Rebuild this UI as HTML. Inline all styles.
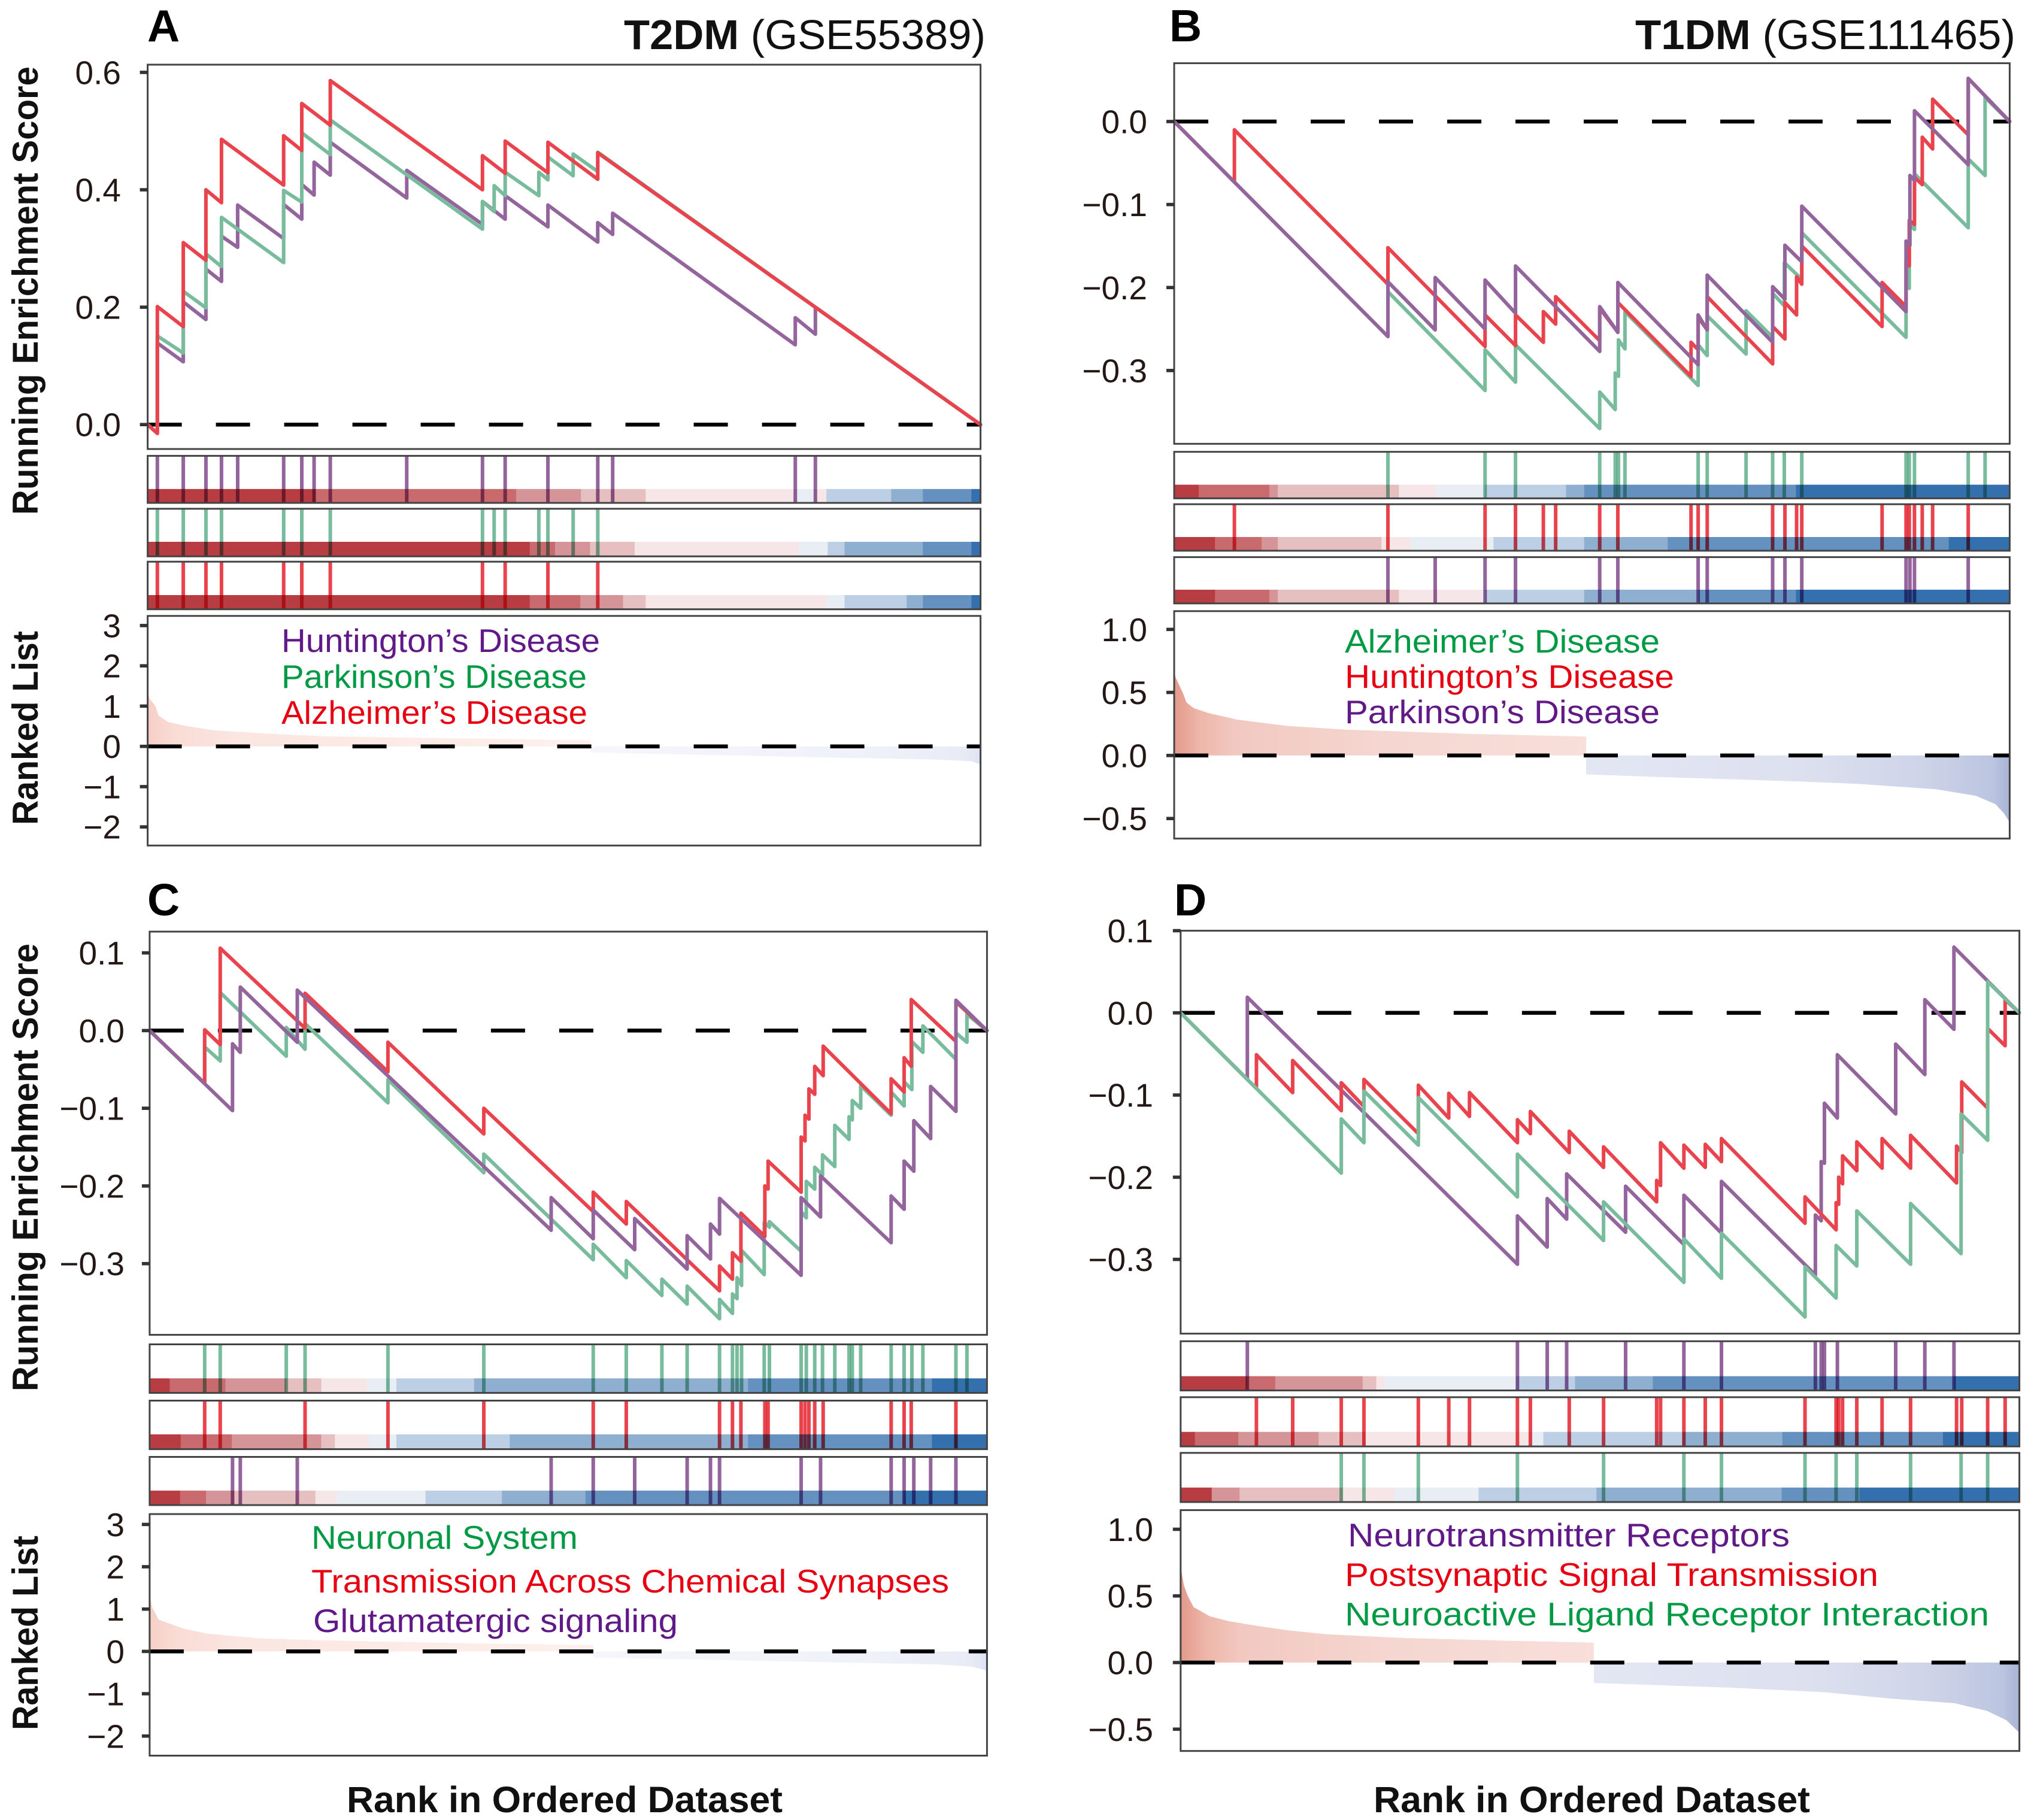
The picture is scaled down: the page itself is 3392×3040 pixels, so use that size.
<!DOCTYPE html>
<html lang="en">
<head>
<meta charset="utf-8">
<title>GSEA running enrichment plots: T2DM and T1DM</title>
<style>
html,body{margin:0;padding:0;background:#fff;}
svg{display:block;}
text{font-family:"Liberation Sans",Arial,sans-serif;}
.letter{font-size:75px;font-weight:700;fill:#000;}
.title{font-size:70px;fill:#111;}
.ytitle{font-size:60px;font-weight:700;fill:#111;}
.xtitle{font-size:61px;font-weight:700;fill:#111;}
.legend{font-size:55px;}
.tick{font-size:55px;fill:#231815;text-anchor:end;}
</style>
</head>
<body>
<svg id="figure" xmlns="http://www.w3.org/2000/svg" width="3392" height="3040" viewBox="0 0 3392 3040">
  <rect x="0" y="0" width="3392" height="3040" fill="#fff"/>
  <defs id="defs"></defs>
  <g id="marks"></g>

  <text class="letter" x="246" y="69">A</text>
  <text class="letter" x="1953" y="69">B</text>
  <text class="letter" x="246" y="1529">C</text>
  <text class="letter" x="1961" y="1529">D</text>

  <text class="title" x="1042" y="82" textLength="604" lengthAdjust="spacingAndGlyphs"><tspan font-weight="700">T2DM</tspan> (GSE55389)</text>
  <text class="title" x="2731" y="82" textLength="635" lengthAdjust="spacingAndGlyphs"><tspan font-weight="700">T1DM</tspan> (GSE111465)</text>

  <text class="ytitle" transform="translate(63,860) rotate(-90)" textLength="749" lengthAdjust="spacingAndGlyphs">Running Enrichment Score</text>
  <text class="ytitle" transform="translate(63,1378) rotate(-90)" textLength="324" lengthAdjust="spacingAndGlyphs">Ranked List</text>
  <text class="ytitle" transform="translate(63,2324) rotate(-90)" textLength="748" lengthAdjust="spacingAndGlyphs">Running Enrichment Score</text>
  <text class="ytitle" transform="translate(63,2890) rotate(-90)" textLength="325" lengthAdjust="spacingAndGlyphs">Ranked List</text>

  <text class="xtitle" x="579" y="3027" textLength="728" lengthAdjust="spacingAndGlyphs">Rank in Ordered Dataset</text>
  <text class="xtitle" x="2294" y="3027" textLength="729" lengthAdjust="spacingAndGlyphs">Rank in Ordered Dataset</text>

  <text class="legend" x="470" y="1089" fill="#601986" textLength="532" lengthAdjust="spacingAndGlyphs">Huntington’s Disease</text>
  <text class="legend" x="470" y="1149" fill="#009944" textLength="510" lengthAdjust="spacingAndGlyphs">Parkinson’s Disease</text>
  <text class="legend" x="470" y="1209" fill="#e60012" textLength="511" lengthAdjust="spacingAndGlyphs">Alzheimer’s Disease</text>

  <text class="legend" x="2246" y="1090" fill="#009944" textLength="526" lengthAdjust="spacingAndGlyphs">Alzheimer’s Disease</text>
  <text class="legend" x="2246" y="1149" fill="#e60012" textLength="550" lengthAdjust="spacingAndGlyphs">Huntington’s Disease</text>
  <text class="legend" x="2246" y="1208" fill="#601986" textLength="526" lengthAdjust="spacingAndGlyphs">Parkinson’s Disease</text>

  <text class="legend" x="520" y="2587" fill="#009944" textLength="445" lengthAdjust="spacingAndGlyphs">Neuronal System</text>
  <text class="legend" x="520" y="2660" fill="#e60012" textLength="1065" lengthAdjust="spacingAndGlyphs">Transmission Across Chemical Synapses</text>
  <text class="legend" x="523" y="2726" fill="#601986" textLength="609" lengthAdjust="spacingAndGlyphs">Glutamatergic signaling</text>

  <text class="legend" x="2251" y="2583" fill="#601986" textLength="738" lengthAdjust="spacingAndGlyphs">Neurotransmitter Receptors</text>
  <text class="legend" x="2246" y="2649" fill="#e60012" textLength="891" lengthAdjust="spacingAndGlyphs">Postsynaptic Signal Transmission</text>
  <text class="legend" x="2246" y="2715" fill="#009944" textLength="1076" lengthAdjust="spacingAndGlyphs">Neuroactive Ligand Receptor Interaction</text>
</svg>

<script>
// ---------- Panel A data (T2DM) ----------
const aPurpleRanks=[15,55,90,114,139,210,238,257,282,400,517,552,618,695,718,1000,1031];
const aPurpleBefore=[-0.015,0.107,0.179,0.244,0.302,0.317,0.350,0.391,0.425,0.386,0.341,0.350,0.337,0.311,0.324,0.136,0.154];
const aPurpleAfter=[0.139,0.209,0.265,0.321,0.374,0.375,0.409,0.447,0.481,0.433,0.380,0.390,0.374,0.344,0.360,0.182,0.200];
const aGreenRanks=[15,55,90,114,210,238,282,517,535,552,604,618,657,695];
const aGreenBefore=[-0.015,0.122,0.199,0.269,0.276,0.379,0.460,0.333,0.363,0.390,0.390,0.417,0.424,0.431];
const aGreenAfter=[0.151,0.227,0.291,0.353,0.399,0.497,0.519,0.380,0.407,0.430,0.430,0.456,0.461,0.464];
const aRedRanks=[15,55,90,114,210,238,282,517,552,618,695];
const aRedBefore=[-0.015,0.167,0.280,0.378,0.408,0.467,0.510,0.400,0.428,0.429,0.418];
const aRedAfter=[0.201,0.310,0.400,0.486,0.492,0.547,0.586,0.458,0.483,0.481,0.463];
const aEsTicks=[0.6,0.4,0.2,0.0];
const aListTicks=[3,2,1,0,-1,-2];
const aBand1Ends=[259,569,669,769,1000,1030,1048,1148,1197,1272,1286];
const aBand1Levels=[0,1,2,3,4,5,4,6,7,8,9];
const aBand2Ends=[590,629,683,752,1005,1050,1076,1197,1272,1286];
const aBand3Ends=[590,668,734,769,1048,1076,1172,1197,1272,1286];
const aListPosRanks=[0,4,12,17,32,62,102,172,272,472,683];
const aListPosScores=[1.30,1.16,1.00,0.76,0.60,0.50,0.40,0.33,0.25,0.20,0.15];
const aListNegRanks=[683,972,1222,1272,1286];
const aListNegScores=[-0.15,-0.25,-0.33,-0.37,-0.45];

// ---------- Panel B data (T1DM) ----------
const bGreenRanks=[330,480,527,657,681,686,696,809,823,883,924,942,969,1130,1135,1143,1226,1252];
const bGreenBefore=[-0.259,-0.324,-0.314,-0.370,-0.347,-0.307,-0.274,-0.318,-0.282,-0.280,-0.260,-0.222,-0.190,-0.260,-0.201,-0.130,-0.128,-0.065];
const bGreenAfter=[-0.205,-0.275,-0.269,-0.326,-0.303,-0.263,-0.229,-0.269,-0.234,-0.228,-0.207,-0.170,-0.134,-0.198,-0.124,-0.063,-0.045,0.029];
const bRedRanks=[93,330,480,527,570,589,657,685,798,809,823,924,943,961,969,1093,1130,1135,1143,1155,1171,1226];
const bRedBefore=[-0.073,-0.196,-0.271,-0.270,-0.266,-0.244,-0.264,-0.254,-0.307,-0.275,-0.251,-0.292,-0.262,-0.233,-0.196,-0.247,-0.223,-0.174,-0.124,-0.076,-0.033,-0.016];
const bRedAfter=[-0.010,-0.152,-0.233,-0.233,-0.229,-0.211,-0.225,-0.218,-0.266,-0.236,-0.211,-0.247,-0.218,-0.187,-0.150,-0.194,-0.170,-0.119,-0.067,-0.019,0.027,0.052];
const bPurpleRanks=[330,403,480,527,657,685,809,823,924,943,969,1130,1136,1143,1226];
const bPurpleBefore=[-0.259,-0.251,-0.250,-0.231,-0.277,-0.254,-0.293,-0.251,-0.266,-0.214,-0.169,-0.229,-0.149,-0.071,-0.052];
const bPurpleAfter=[-0.193,-0.188,-0.191,-0.174,-0.223,-0.194,-0.233,-0.185,-0.199,-0.149,-0.102,-0.144,-0.065,0.013,0.052];
const bEsTicks=[0.0,-0.1,-0.2,-0.3];
const bListTicks=[1.0,0.5,0.0,-0.5];
const bBand1Ends=[38,147,160,347,405,480,605,633,960,1290];
const bBand2Ends=[63,135,160,320,365,493,633,762,1196,1290];
const bBand3Ends=[63,147,160,347,475,480,633,809,960,1290];
const bListPosRanks=[0,2,14,19,30,52,98,175,267,360,455,636];
const bListPosScores=[0.68,0.62,0.49,0.42,0.376,0.338,0.284,0.234,0.204,0.189,0.172,0.15];
const bListNegRanks=[636,755,960,1053,1176,1238,1268,1281,1290];
const bListNegScores=[-0.15,-0.172,-0.205,-0.224,-0.268,-0.32,-0.386,-0.458,-0.53];

// ---------- Panel C data (T2DM) ----------
const cGreenRanks=[85,109,211,240,368,516,685,736,791,830,880,900,907,914,949,957,1006,1014,1027,1039,1058,1080,1085,1098,1145,1165,1177,1194,1245,1262];
const cGreenBefore=[-0.068,-0.039,-0.033,-0.024,-0.093,-0.183,-0.295,-0.318,-0.341,-0.352,-0.371,-0.364,-0.345,-0.328,-0.314,-0.253,-0.284,-0.241,-0.204,-0.186,-0.175,-0.140,-0.115,-0.100,-0.109,-0.097,-0.076,-0.028,-0.037,-0.015];
const cGreenAfter=[-0.021,0.049,0.004,0.009,-0.063,-0.159,-0.275,-0.296,-0.320,-0.329,-0.346,-0.339,-0.318,-0.283,-0.247,-0.246,-0.233,-0.194,-0.176,-0.160,-0.122,-0.111,-0.090,-0.071,-0.079,-0.066,-0.014,0.006,-0.003,0.021];
const cRedRanks=[85,109,240,368,516,685,736,880,900,913,950,955,1006,1012,1018,1027,1040,1145,1165,1176,1245];
const cRedBefore=[-0.068,-0.018,0.003,-0.053,-0.133,-0.233,-0.249,-0.335,-0.320,-0.297,-0.265,-0.204,-0.208,-0.142,-0.114,-0.082,-0.058,-0.107,-0.079,-0.046,-0.014];
const cRedAfter=[0.001,0.106,0.048,-0.015,-0.100,-0.208,-0.220,-0.303,-0.286,-0.235,-0.200,-0.168,-0.137,-0.109,-0.075,-0.046,-0.020,-0.062,-0.035,0.040,0.037];
const cPurpleRanks=[128,140,228,620,685,749,830,866,880,1006,1036,1145,1165,1180,1206,1245];
const cPurpleBefore=[-0.103,-0.028,-0.015,-0.257,-0.268,-0.282,-0.307,-0.294,-0.262,-0.315,-0.240,-0.273,-0.230,-0.181,-0.139,-0.104];
const cPurpleAfter=[-0.017,0.056,0.052,-0.215,-0.231,-0.242,-0.264,-0.249,-0.216,-0.215,-0.187,-0.213,-0.168,-0.116,-0.072,0.039];
const cEsTicks=[0.1,0.0,-0.1,-0.2,-0.3];
const cListTicks=[3,2,1,0,-1,-2];
const cBand1Ends=[31,117,211,265,336,381,501,924,1208,1293];
const cBand2Ends=[48,127,265,286,339,381,556,924,1208,1293];
const cBand3Ends=[47,87,131,256,289,426,544,673,1164,1293];
const cListPosRanks=[0,4,14,34,54,89,169,269,469,685];
const cListPosScores=[1.34,1.04,0.75,0.64,0.53,0.42,0.31,0.26,0.20,0.15];
const cListNegRanks=[685,969,1219,1269,1293];
const cListNegScores=[-0.146,-0.23,-0.31,-0.36,-0.45];

// ---------- Panel D data (T1DM) ----------
const dPurpleRanks=[103,520,566,596,687,777,835,980,989,994,1014,1104,1149,1194];
const dPurpleBefore=[-0.081,-0.306,-0.285,-0.251,-0.267,-0.282,-0.268,-0.319,-0.253,-0.183,-0.128,-0.123,-0.075,-0.020];
const dPurpleAfter=[0.019,-0.247,-0.226,-0.196,-0.211,-0.222,-0.205,-0.246,-0.181,-0.110,-0.051,-0.038,0.016,0.080];
const dRedRanks=[117,173,248,283,367,414,446,520,540,600,653,735,741,777,810,835,964,1012,1016,1022,1044,1083,1127,1198,1206,1246,1273];
const dRedBefore=[-0.092,-0.097,-0.119,-0.114,-0.147,-0.128,-0.126,-0.158,-0.147,-0.170,-0.188,-0.230,-0.210,-0.189,-0.188,-0.181,-0.256,-0.264,-0.233,-0.208,-0.192,-0.189,-0.189,-0.207,-0.170,-0.116,-0.040];
const dRedAfter=[-0.051,-0.058,-0.085,-0.081,-0.088,-0.098,-0.097,-0.130,-0.120,-0.144,-0.163,-0.204,-0.158,-0.161,-0.160,-0.153,-0.224,-0.231,-0.200,-0.174,-0.157,-0.153,-0.149,-0.162,-0.084,-0.019,0.016];
const dGreenRanks=[248,283,367,520,653,777,835,964,1012,1044,1127,1205,1246];
const dGreenBefore=[-0.195,-0.158,-0.161,-0.224,-0.277,-0.328,-0.323,-0.370,-0.347,-0.308,-0.306,-0.293,-0.155];
const dGreenAfter=[-0.129,-0.095,-0.103,-0.172,-0.230,-0.275,-0.268,-0.309,-0.283,-0.241,-0.232,-0.123,0.038];
const dEsTicks=[0.1,0.0,-0.1,-0.2,-0.3];
const dListTicks=[1.0,0.5,0.0,-0.5];
const dBand1Ends=[103,146,281,302,315,518,609,729,1194,1295];
const dBand2Ends=[22,89,213,285,540,560,775,929,1177,1295];
const dBand3Ends=[48,91,250,330,460,642,928,1048,1295];
const dBand3Levels=[0,2,3,4,5,6,7,8,9];
const dListPosRanks=[0,5,11,20,45,75,115,165,225,345,495,638];
const dListPosScores=[0.72,0.58,0.50,0.416,0.347,0.31,0.277,0.242,0.212,0.184,0.165,0.149];
const dListNegRanks=[638,845,995,1095,1195,1245,1275,1295];
const dListNegScores=[-0.153,-0.188,-0.223,-0.27,-0.305,-0.363,-0.433,-0.526];

const defaultLevels=[0,1,2,3,4,5,6,7,8,9];
const bandPalette=['#b83d43','#c86a6e','#d59598','#e6bfc1','#f6e6e7','#e9eef5','#bccfe4','#8fafd1','#6591c1','#3570ae'];
const seriesColors={purple:'#94649d',green:'#79bb9d',red:'#e9444e'};
const palePos=[[0,'#f6cfc6'],[0.06,'#f9dcd5'],[0.2,'#fbe6e1'],[1,'#fdf0ec']];
const paleNeg=[[0,'#f5f6fc'],[0.75,'#eff1f9'],[0.96,'#e8ebf5'],[1,'#dfe3f2']];
const strongPos=[[0,'#e2998a'],[0.06,'#edb6a9'],[0.15,'#f2c9c1'],[0.5,'#f5d6d0'],[1,'#f8dfda']];
const strongNeg=[[0,'#e3e6f3'],[0.5,'#dde1ef'],[0.78,'#cfd5e9'],[0.96,'#bcc5e0'],[1,'#a8b4d6']];
const NS='http://www.w3.org/2000/svg';
const root=document.getElementById('marks');
const defs=document.getElementById('defs');

function mk(tag,attrs,parent){
  const e=document.createElementNS(NS,tag);
  for(const k in attrs){e.setAttribute(k,attrs[k]);}
  parent.appendChild(e);
  return e;
}

const panels=[
 {id:'a',x0:246.6,x1:1637.6,rankMax:1286,top:108,bottom:750,esY0:709.2,esK:980.5,esTicks:aEsTicks,esDigits:1,
  labelRight:202,
  series:[
   {name:'purple',ranks:aPurpleRanks,before:aPurpleBefore,after:aPurpleAfter},
   {name:'green',ranks:aGreenRanks,before:aGreenBefore,after:aGreenAfter},
   {name:'red',ranks:aRedRanks,before:aRedBefore,after:aRedAfter}],
  strips:[
   {top:761.4,band:816.8,bottom:840,ends:aBand1Ends,levels:aBand1Levels},
   {top:849.8,band:905,bottom:929.3,ends:aBand2Ends,levels:defaultLevels},
   {top:938.2,band:994,bottom:1017.7,ends:aBand3Ends,levels:defaultLevels}],
  list:{top:1028.8,bottom:1412.3,y0:1246.7,k:67.27,ticks:aListTicks,digits:0,posRanks:aListPosRanks,posScores:aListPosScores,negRanks:aListNegRanks,negScores:aListNegScores,
   pos:palePos,neg:paleNeg}},
 {id:'b',x0:1961,x1:3356.4,rankMax:1290,top:105.6,bottom:741.3,esY0:203,esK:1386.3,esTicks:bEsTicks,esDigits:1,
  labelRight:1916,
  series:[
   {name:'green',ranks:bGreenRanks,before:bGreenBefore,after:bGreenAfter},
   {name:'red',ranks:bRedRanks,before:bRedBefore,after:bRedAfter},
   {name:'purple',ranks:bPurpleRanks,before:bPurpleBefore,after:bPurpleAfter}],
  strips:[
   {top:754.7,band:809.6,bottom:832.4,ends:bBand1Ends,levels:defaultLevels},
   {top:842.2,band:897,bottom:919.9,ends:bBand2Ends,levels:defaultLevels},
   {top:930.6,band:985,bottom:1007.9,ends:bBand3Ends,levels:defaultLevels}],
  list:{top:1020.8,bottom:1400.7,y0:1261.9,k:210.6,ticks:bListTicks,digits:1,posRanks:bListPosRanks,posScores:bListPosScores,negRanks:bListNegRanks,negScores:bListNegScores,
   pos:strongPos,neg:strongNeg}},
 {id:'c',x0:249.9,x1:1648.4,rankMax:1293,top:1556.1,bottom:2229.6,esY0:1721.4,esK:1297.7,esTicks:cEsTicks,esDigits:1,
  labelRight:208,
  series:[
   {name:'green',ranks:cGreenRanks,before:cGreenBefore,after:cGreenAfter},
   {name:'red',ranks:cRedRanks,before:cRedBefore,after:cRedAfter},
   {name:'purple',ranks:cPurpleRanks,before:cPurpleBefore,after:cPurpleAfter}],
  strips:[
   {top:2245.5,band:2302.3,bottom:2326.6,ends:cBand1Ends,levels:defaultLevels},
   {top:2339.5,band:2395.8,bottom:2420.6,ends:cBand2Ends,levels:defaultLevels},
   {top:2433.5,band:2489.8,bottom:2514,ends:cBand3Ends,levels:defaultLevels}],
  list:{top:2529,bottom:2932.5,y0:2758.4,k:70.7,ticks:cListTicks,digits:0,posRanks:cListPosRanks,posScores:cListPosScores,negRanks:cListNegRanks,negScores:cListNegScores,
   pos:palePos,neg:paleNeg}},
 {id:'d',x0:1971.8,x1:3372.6,rankMax:1295,top:1554.6,bottom:2227.6,esY0:1691.8,esK:1372.7,esTicks:dEsTicks,esDigits:1,
  labelRight:1926,
  series:[
   {name:'purple',ranks:dPurpleRanks,before:dPurpleBefore,after:dPurpleAfter},
   {name:'red',ranks:dRedRanks,before:dRedBefore,after:dRedAfter},
   {name:'green',ranks:dGreenRanks,before:dGreenBefore,after:dGreenAfter}],
  strips:[
   {top:2240.3,band:2298.7,bottom:2322.5,ends:dBand1Ends,levels:defaultLevels},
   {top:2333.8,band:2391.7,bottom:2416,ends:dBand2Ends,levels:defaultLevels},
   {top:2426.8,band:2484.7,bottom:2508.9,ends:dBand3Ends,levels:dBand3Levels}],
  list:{top:2522.4,bottom:2924.7,y0:2777,k:222.6,ticks:dListTicks,digits:1,posRanks:dListPosRanks,posScores:dListPosScores,negRanks:dListNegRanks,negScores:dListNegScores,
   pos:strongPos,neg:strongNeg}}
];

function fmt(v,digits){
  const s=Math.abs(v).toFixed(digits);
  return (v<0?'\u2212':'')+s;
}

function drawFrame(g,p,top,bottom,name){
  const r=mk('rect',{x:p.x0,y:top,width:p.x1-p.x0,height:bottom-top,fill:'none',stroke:'#444','stroke-width':3},g);
  
  
}

function drawTicks(g,p,vals,yFn,digits,axisName){
  vals.forEach(function(v){
    const y=yFn(v);
    const t=mk('rect',{x:p.x0-13,y:y-2.8,width:13,height:5.6,fill:'#333'},g);
    
    
    const l=mk('text',{x:p.labelRight,y:y+19.5,'class':'tick'},g);
    
    
    l.textContent=fmt(v,digits);
  });
}

function drawZeroLine(g,p,y,name){
  const z=mk('line',{x1:p.x0,x2:p.x1,y1:y,y2:y,stroke:'#000','stroke-width':6.5,'stroke-dasharray':'57 57'},g);
  
  
}

function makeGradient(id,stops){
  const lg=mk('linearGradient',{id:id,x1:0,x2:1,y1:0,y2:0},defs);
  stops.forEach(function(s){mk('stop',{offset:s[0],'stop-color':s[1]},lg);});
}

panels.forEach(function(p){
  const g=mk('g',{},root);
  
  
  const xOf=function(r){return p.x0+r/p.rankMax*(p.x1-p.x0);};
  const esY=function(v){return p.esY0-v*p.esK;};
  const listY=function(v){return p.list.y0-v*p.list.k;};

  // running enrichment lines
  drawZeroLine(g,p,esY(0),'es-zero-line-'+p.id);
  p.series.forEach(function(s){
    let d='M'+xOf(0).toFixed(1)+' '+esY(0).toFixed(1);
    s.ranks.forEach(function(r,i){
      const x=xOf(r).toFixed(1);
      d+=' L'+x+' '+esY(s.before[i]).toFixed(1)+' L'+x+' '+esY(s.after[i]).toFixed(1);
    });
    d+=' L'+xOf(p.rankMax).toFixed(1)+' '+esY(0).toFixed(1);
    const line=mk('path',{d:d,fill:'none',stroke:seriesColors[s.name],'stroke-width':6,'stroke-linejoin':'round','stroke-linecap':'round'},g);
    
    
  });
  drawFrame(g,p,p.top,p.bottom,'es-plot-frame-'+p.id);
  drawTicks(g,p,p.esTicks,esY,p.esDigits,'es-y-axis-'+p.id);

  // rug strips with heat bands
  p.strips.forEach(function(st,si){
    const s=p.series[si];
    let prev=0;
    st.ends.forEach(function(end,i){
      const b=mk('rect',{x:xOf(prev),y:st.band,width:xOf(end)-xOf(prev)+0.5,height:st.bottom-st.band,fill:bandPalette[st.levels[i]]},g);
      
      
      prev=end;
    });
    s.ranks.forEach(function(r){
      const h=mk('line',{x1:xOf(r),x2:xOf(r),y1:st.top,y2:st.bottom,stroke:seriesColors[s.name],'stroke-width':6,style:'mix-blend-mode:multiply'},g);
      
      
    });
    drawFrame(g,p,st.top,st.bottom,'rug-strip-frame-'+p.id+'-'+s.name);
  });

  // ranked list
  const L=p.list;
  makeGradient('pos-'+p.id,L.pos);
  makeGradient('neg-'+p.id,L.neg);
  const area=function(ranks,scores){
    let d='M'+xOf(ranks[0]).toFixed(1)+' '+listY(0).toFixed(1);
    ranks.forEach(function(r,i){d+=' L'+xOf(r).toFixed(1)+' '+listY(scores[i]).toFixed(1);});
    d+=' L'+xOf(ranks[ranks.length-1]).toFixed(1)+' '+listY(0).toFixed(1)+' Z';
    return d;
  };
  const pa=mk('path',{d:area(L.posRanks,L.posScores),fill:'url(#pos-'+p.id+')'},g);
  
  
  const na=mk('path',{d:area(L.negRanks,L.negScores),fill:'url(#neg-'+p.id+')'},g);
  
  
  drawZeroLine(g,p,listY(0),'ranked-zero-line-'+p.id);
  drawFrame(g,p,L.top,L.bottom,'ranked-plot-frame-'+p.id);
  drawTicks(g,p,L.ticks,listY,L.digits,'ranked-y-axis-'+p.id);
});
</script>
</body>
</html>
